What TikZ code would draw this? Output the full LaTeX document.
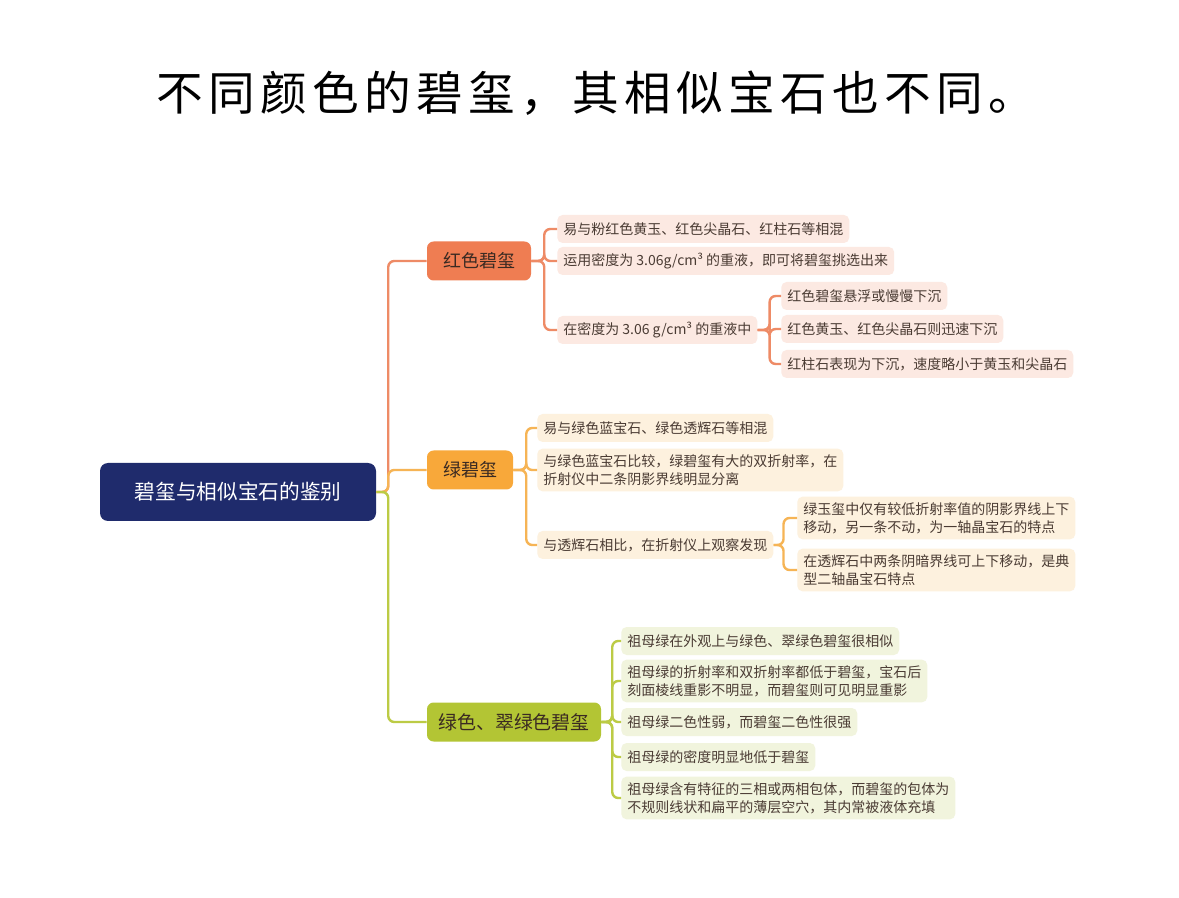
\documentclass[tikz,border=0pt]{standalone}
\usepackage{fontspec}
\setmainfont{Noto Sans CJK SC}
\definecolor{navy}{HTML}{1F2B6C}
\definecolor{redfill}{HTML}{EF7D52}
\definecolor{redline}{HTML}{EE8B66}
\definecolor{redleaf}{HTML}{FCE9E2}
\definecolor{orgfill}{HTML}{F8A83A}
\definecolor{orgline}{HTML}{F6B455}
\definecolor{orgleaf}{HTML}{FDF1DE}
\definecolor{ygfill}{HTML}{B3C534}
\definecolor{ygline}{HTML}{BCCB45}
\definecolor{ygleaf}{HTML}{F1F4DD}
\definecolor{leaftext}{HTML}{4A3B33}
\definecolor{nodetext}{HTML}{3A2A22}

\tikzset{
  topic/.style={rounded corners=5pt, inner sep=0pt, minimum height=29.25pt, text=nodetext, font=\fontsize{13.5pt}{16pt}\selectfont},
  leaf/.style={rounded corners=4pt, inner xsep=4.5pt, inner ysep=0pt, minimum height=21pt, anchor=west, align=left, text=leaftext, font=\fontsize{10.5pt}{13.5pt}\selectfont},
  twoline/.style={leaf, minimum height=32pt},
  link/.style={line width=1.8pt, rounded corners=4.5pt}
}

\begin{document}
\begin{tikzpicture}[x=0.75pt, y=-0.75pt]
    \useasboundingbox[fill=white] (0,0) rectangle (1179,898);
    \node[anchor=west, inner sep=0pt, font={\fontsize{35pt}{40pt}\selectfont\addfontfeatures{LetterSpace=11.5}}] (title) at (156,93) {不同颜色的碧玺，其相似宝石也不同。};

    \node[fill=navy, rounded corners=6pt, minimum width=207pt, minimum height=43.5pt, inner sep=0pt, text=white, font=\fontsize{15.5pt}{18pt}\selectfont] (root) at (238,492) {碧玺与相似宝石的鉴别};

    \node[topic, fill=redfill, minimum width=78pt] (red) at (479,261) {红色碧玺};
    \node[topic, fill=orgfill, minimum width=64.5pt] (green) at (470,470) {绿碧玺};
    \node[topic, fill=ygfill, minimum width=130.5pt, font=\fontsize{14.2pt}{17pt}\selectfont] (yg) at (514,722) {绿色、翠绿色碧玺};

    \node[leaf, fill=redleaf] (r1) at (557,229) {易与粉红色黄玉、红色尖晶石、红柱石等相混};
    \node[leaf, fill=redleaf] (r2) at (557,261) {运用密度为 3.06g/cm³ 的重液，即可将碧玺挑选出来};
    \node[leaf, fill=redleaf] (r3) at (557,330) {在密度为 3.06 g/cm³ 的重液中};
    \node[leaf, fill=redleaf] (r31) at (781,296) {红色碧玺悬浮或慢慢下沉};
    \node[leaf, fill=redleaf] (r32) at (781,329) {红色黄玉、红色尖晶石则迅速下沉};
    \node[leaf, fill=redleaf] (r33) at (781,364) {红柱石表现为下沉，速度略小于黄玉和尖晶石};

    \node[leaf, fill=orgleaf] (g1) at (537,428) {易与绿色蓝宝石、绿色透辉石等相混};
    \node[twoline, fill=orgleaf] (g2) at (537,470) {与绿色蓝宝石比较，绿碧玺有大的双折射率，在\\折射仪中二条阴影界线明显分离};
    \node[leaf, fill=orgleaf] (g3) at (537,545) {与透辉石相比，在折射仪上观察发现};
    \node[twoline, fill=orgleaf] (g31) at (797,518) {绿玉玺中仅有较低折射率值的阴影界线上下\\移动，另一条不动，为一轴晶宝石的特点};
    \node[twoline, fill=orgleaf] (g32) at (797,570) {在透辉石中两条阴暗界线可上下移动，是典\\型二轴晶宝石特点};

    \node[leaf, fill=ygleaf] (y1) at (621,641) {祖母绿在外观上与绿色、翠绿色碧玺很相似};
    \node[twoline, fill=ygleaf] (y2) at (621,681) {祖母绿的折射率和双折射率都低于碧玺，宝石后\\刻面棱线重影不明显，而碧玺则可见明显重影};
    \node[leaf, fill=ygleaf] (y3) at (621,722) {祖母绿二色性弱，而碧玺二色性很强};
    \node[leaf, fill=ygleaf] (y4) at (621,757) {祖母绿的密度明显地低于碧玺};
    \node[twoline, fill=ygleaf] (y5) at (621,798) {祖母绿含有特征的三相或两相包体，而碧玺的包体为\\不规则线状和扁平的薄层空穴，其内常被液体充填};

    \draw[link, redline] (root.east) -- ++(12,0) |- (red.west);
    \draw[link, orgline] (root.east) -- ++(12,0) |- (green.west);
    \draw[link, ygline] (root.east) -- ++(12,0) |- (yg.west);

    \draw[link, redline] (red.east) -- ++(13,0) |- (r1.west);
    \draw[link, redline] (red.east) -- ++(13,0) |- (r2.west);
    \draw[link, redline] (red.east) -- ++(13,0) |- (r3.west);
    \draw[link, redline] (r3.east) -- ++(12,0) |- (r31.west);
    \draw[link, redline] (r3.east) -- ++(12,0) |- (r32.west);
    \draw[link, redline] (r3.east) -- ++(12,0) |- (r33.west);

    \draw[link, orgline] (green.east) -- ++(13,0) |- (g1.west);
    \draw[link, orgline] (green.east) -- ++(13,0) |- (g2.west);
    \draw[link, orgline] (green.east) -- ++(13,0) |- (g3.west);
    \draw[link, orgline] (g3.east) -- ++(10,0) |- (g31.west);
    \draw[link, orgline] (g3.east) -- ++(10,0) |- (g32.west);

    \draw[link, ygline] (yg.east) -- ++(11,0) |- (y1.west);
    \draw[link, ygline] (yg.east) -- ++(11,0) |- (y2.west);
    \draw[link, ygline] (yg.east) -- ++(11,0) |- (y3.west);
    \draw[link, ygline] (yg.east) -- ++(11,0) |- (y4.west);
    \draw[link, ygline] (yg.east) -- ++(11,0) |- (y5.west);
\end{tikzpicture}
\end{document}
